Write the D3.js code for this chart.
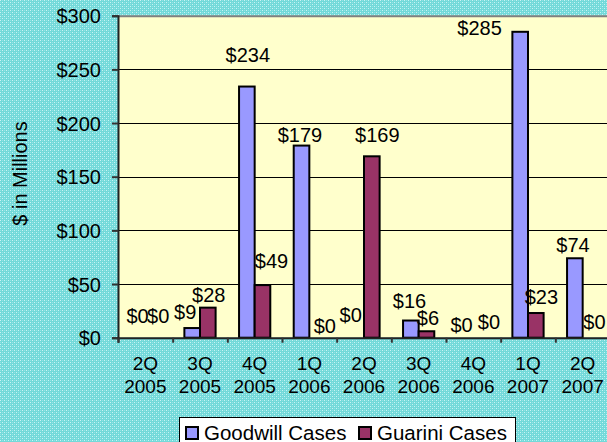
<!DOCTYPE html>
<html>
<head>
<meta charset="utf-8">
<script src="https://cdn.jsdelivr.net/npm/d3@7"></script>
<style>
  html, body { margin: 0; padding: 0; background: #7adcdc; }
  svg { display: block; }
  text { font-family: "Liberation Sans", Arial, sans-serif; fill: #000; }
</style>
</head>
<body>
<script>
// ---- data ----
const quarters = ["2Q", "3Q", "4Q", "1Q", "2Q", "3Q", "4Q", "1Q", "2Q"];
const years    = ["2005", "2005", "2005", "2006", "2006", "2006", "2006", "2007", "2007"];
const goodwill = [0, 9, 234, 179, 0, 16, 0, 285, 74];
const guarini  = [0, 28, 49, 0, 169, 6, 0, 23, 0];
const seriesNames = ["Goodwill Cases", "Guarini Cases"];
const yTicks = [0, 50, 100, 150, 200, 250, 300];
const yTitle = "$ in Millions";

// label nudges (pixels) – layout only, not data
const labelNudgeG  = [[0,-14.5],[-7,-9.5],[1,-24.5],[-1.6,-3.8],[-5.5,-16],[-1.4,-13],[-4,-5.3],[-40.6,3],[-1.8,-6.5]];
const labelNudgeGu = [[5,-14.5],[1,-5.2],[9,-17.6],[7.7,-4.3],[5.5,-14],[1.5,-6.2],[7.8,-8.6],[5.6,-9],[4,-8.6]];

const W = 607, H = 442;
const plot = { left: 118, top: 15.7, right: 610, bottom: 337.7 };

const svg = d3.select("body").append("svg").attr("width", W).attr("height", H);

// background pattern
const defs = svg.append("defs");
const pat = defs.append("pattern").attr("id", "bgpat").attr("width", 4).attr("height", 4)
  .attr("patternUnits", "userSpaceOnUse");
pat.append("rect").attr("width", 4).attr("height", 4).attr("fill", "#72d9d9");
pat.append("rect").attr("x", 0).attr("y", 0).attr("width", 1).attr("height", 1).attr("fill", "#c8f4f4");
pat.append("rect").attr("x", 2).attr("y", 2).attr("width", 1).attr("height", 1).attr("fill", "#c8f4f4");
pat.append("rect").attr("x", 2).attr("y", 0).attr("width", 1).attr("height", 1).attr("fill", "#92e4e4");
pat.append("rect").attr("x", 0).attr("y", 2).attr("width", 1).attr("height", 1).attr("fill", "#92e4e4");
svg.append("rect").attr("width", W).attr("height", H).attr("fill", "url(#bgpat)");

const x0 = d3.scaleBand().domain(d3.range(quarters.length)).range([plot.left, plot.right]).paddingInner(0).paddingOuter(0);
const step = x0.bandwidth();
const barW = step / 3.5;
const y = d3.scaleLinear().domain([0, 300]).range([plot.bottom, plot.top]);

// plot area
svg.append("rect").attr("x", plot.left).attr("y", plot.top)
  .attr("width", plot.right - plot.left).attr("height", plot.bottom - plot.top)
  .attr("fill", "#FFFFCC");

// gridlines
svg.append("g").selectAll("line").data(yTicks.filter(t => t > 0 && t < 300)).join("line")
  .attr("x1", plot.left).attr("x2", plot.right)
  .attr("y1", d => Math.round(y(d)) + 0.5).attr("y2", d => Math.round(y(d)) + 0.5)
  .attr("stroke", "#000").attr("stroke-width", 1);

// top border
svg.append("line").attr("x1", plot.left).attr("x2", plot.right)
  .attr("y1", plot.top + 0.5).attr("y2", plot.top + 0.5)
  .attr("stroke", "#808080").attr("stroke-width", 2);

// bars
const series = [goodwill, guarini];
const colors = ["#9999FF", "#993366"];
const nudges = [labelNudgeG, labelNudgeGu];
series.forEach((vals, s) => {
  const g = svg.append("g");
  g.selectAll("rect").data(vals).join("rect")
    .attr("x", (d, i) => x0(i) + step / 2 + (s === 0 ? -barW : 0))
    .attr("y", d => y(d))
    .attr("width", barW)
    .attr("height", d => y(0) - y(d))
    .attr("fill", colors[s])
    .attr("stroke", "#000").attr("stroke-width", 2)
    .style("display", d => d > 0 ? null : "none");
});

// axes
const yAxis = d3.axisLeft(y).tickValues(yTicks).tickSize(6).tickFormat(d => "$" + d);
const gy = svg.append("g").attr("transform", `translate(${plot.left},0)`).call(yAxis);
gy.select(".domain").attr("stroke", "#222").attr("stroke-width", 2);
gy.selectAll(".tick line").attr("stroke", "#333").attr("stroke-width", 2);
gy.selectAll(".tick text").attr("x", -17).attr("dy", "0.36em")
  .style("font-size", "20px").style("font-family", "'Liberation Sans', Arial, sans-serif");

const xb = d3.scaleLinear().domain([0, quarters.length]).range([plot.left, plot.right]);
const xAxis = d3.axisBottom(xb).tickValues(d3.range(0, quarters.length + 1)).tickSize(5).tickFormat("");
const gx = svg.append("g").attr("transform", `translate(0,${plot.bottom})`).call(xAxis);
gx.select(".domain").attr("stroke", "#222").attr("stroke-width", 2);
gx.selectAll(".tick line").attr("stroke", "#333").attr("stroke-width", 2);

// category labels
const cat = svg.append("g").selectAll("text").data(quarters).join("text")
  .attr("text-anchor", "middle")
  .style("font-size", "19px")
  .attr("x", (d, i) => x0(i) + step / 2);
cat.append("tspan").attr("x", (d, i) => x0(i) + step / 2).attr("y", 369.5).text(d => d);
cat.append("tspan").attr("x", (d, i) => x0(i) + step / 2).attr("y", 392.5).text((d, i) => years[i]);

// data labels
series.forEach((vals, s) => {
  svg.append("g").selectAll("text").data(vals).join("text")
    .attr("text-anchor", "middle")
    .style("font-size", "20px")
    .attr("x", (d, i) => x0(i) + step / 2 + (s === 0 ? -barW / 2 : barW / 2) + nudges[s][i][0])
    .attr("y", (d, i) => y(d) + nudges[s][i][1])
    .text(d => "$" + d);
});

// y title
svg.append("text").attr("transform", "translate(27,173.5) rotate(-90)")
  .attr("text-anchor", "middle").style("font-size", "20px").text(yTitle);

// legend
const lg = svg.append("g");
lg.append("rect").attr("x", 179.5).attr("y", 417.5).attr("width", 336).attr("height", 40)
  .attr("fill", "#fff").attr("stroke", "#000").attr("stroke-width", 1);
const legendX = [185, 358];
seriesNames.forEach((n, s) => {
  lg.append("rect").attr("x", legendX[s] + 1).attr("y", 427).attr("width", 12).attr("height", 12)
    .attr("fill", colors[s]).attr("stroke", "#000").attr("stroke-width", 2);
  lg.append("text").attr("x", legendX[s] + 19).attr("y", 439.5)
    .style("font-size", "20.5px").text(n);
});
</script>
</body>
</html>
